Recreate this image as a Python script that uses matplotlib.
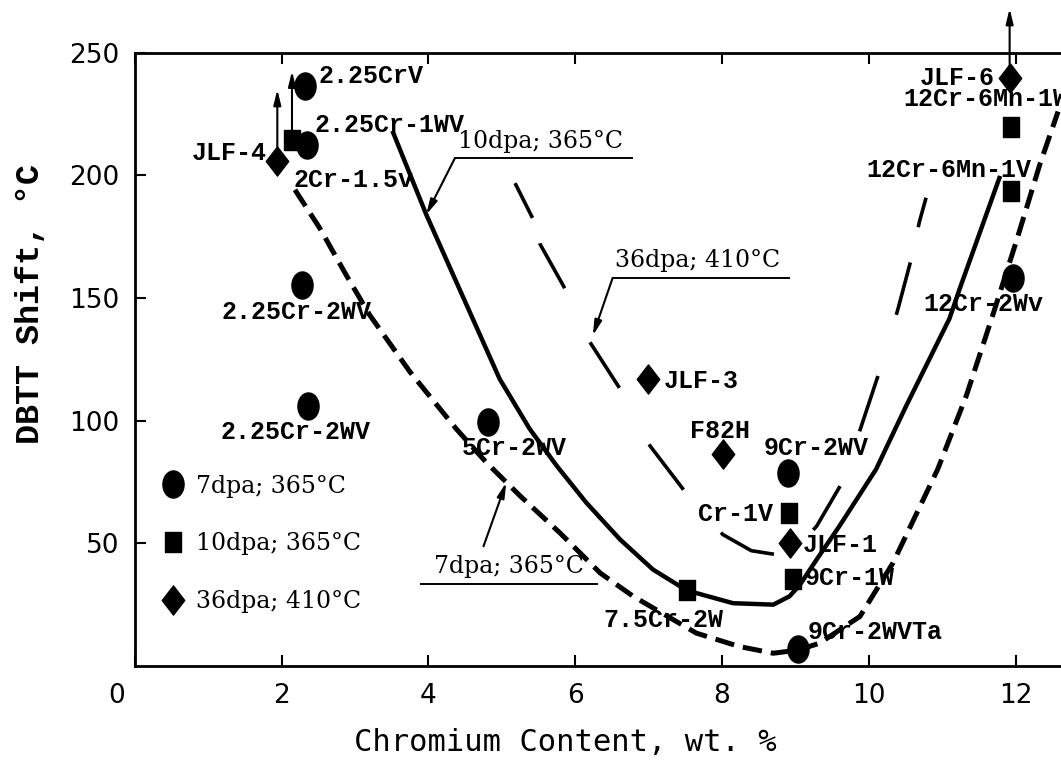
import matplotlib.pyplot as plt
from matplotlib.path import Path
import matplotlib.transforms as mtransforms

plt.rcParams['lines.scale_dashes'] = False

# --- measured points ---
# 7dpa; 365C (circles)
circle_cr = [2.32, 2.34, 2.27, 2.36, 4.81, 8.90, 9.04, 11.97]
circle_shift = [236.4, 212.5, 155.2, 106.1, 99.4, 78.8, 6.8, 158.0]

# 10dpa; 365C (squares)
square_cr = [2.14, 7.52, 8.92, 8.97, 11.94, 11.94]
square_shift = [214.5, 30.8, 62.5, 35.5, 193.8, 219.6]

# 36dpa; 410C (diamonds)
diamond_cr = [1.94, 6.99, 8.02, 8.93, 11.92]
diamond_shift = [205.7, 117.0, 86.3, 50.2, 239.8]

# lower-bound values (arrow pointing up)
bound_cr = [1.94, 2.14, 11.92]
bound_from = [208.0, 218.0, 243.0]
bound_to = [235.0, 242.5, 268.0]

# --- trend curves ---
curve7_cr = [2.18, 2.52, 2.88, 3.2, 3.75, 4.38, 4.79, 5.25, 5.79, 6.34, 6.79, 7.65,
             8.24, 8.7, 9.04, 9.33, 9.88, 10.33, 10.94, 11.33, 11.69, 12.01, 12.33, 12.58]
curve7_shift = [194.1, 178.4, 159.3, 143.0, 119.8, 96.6, 82.9, 69.3, 54.3, 37.9, 28.4, 13.4,
                7.9, 5.2, 6.5, 9.3, 20.2, 42.0, 80.2, 110.2, 143.0, 173.0, 204.3, 226.0]

curve10_cr = [3.52, 3.97, 4.38, 4.97, 5.38, 5.75, 6.15, 6.61, 7.06, 7.52, 8.15, 8.7,
              8.92, 9.06, 9.29, 9.6, 10.1, 10.51, 11.1, 11.24, 11.78]
curve10_shift = [217.3, 184.0, 156.5, 117.0, 96.6, 81.5, 66.6, 51.6, 39.3, 30.8, 25.6, 25.0,
                 28.4, 33.0, 43.4, 57.0, 80.2, 106.0, 141.6, 153.8, 198.9]

curve36_cr = [5.18, 5.42, 5.52, 5.86, 6.2, 6.61, 7.02, 7.49, 8.01, 8.4, 8.74, 9.0,
              9.29, 9.65, 9.9, 10.15, 10.4, 10.58, 10.69, 10.81]
curve36_shift = [196.8, 182.5, 172.0, 153.8, 132.0, 113.0, 89.7, 71.3, 53.6, 47.0, 45.4, 47.5,
                 57.0, 75.4, 97.9, 120.4, 145.7, 166.0, 181.0, 194.0]

alloy_names = ['2.25CrV', '2.25Cr-1WV', 'JLF-4', '2Cr-1.5v', '2.25Cr-2WV', '2.25Cr-2WV',
               '5Cr-2WV', 'JLF-3', 'F82H', '9Cr-2WV', 'Cr-1V', 'JLF-1', '9Cr-1W',
               '7.5Cr-2W', '9Cr-2WVTa', 'JLF-6', '12Cr-6Mn-1W', '12Cr-6Mn-1V', '12Cr-2Wv']
name_pos = [(2.50, 240.5, 'left'), (2.45, 220.7, 'left'), (1.79, 209.0, 'right'),
            (2.16, 198.2, 'left'), (1.18, 144.3, 'left'), (1.17, 95.2, 'left'),
            (4.45, 89.0, 'left'), (7.20, 116.3, 'left'), (7.97, 95.9, 'center'),
            (8.57, 89.0, 'left'), (8.70, 61.8, 'right'), (9.10, 49.5, 'left'),
            (9.13, 35.9, 'left'), (6.38, 18.8, 'left'), (9.17, 14.0, 'left'),
            (11.72, 239.8, 'right'), (10.47, 231.0, 'left'), (9.97, 202.3, 'left'),
            (10.74, 147.7, 'left')]

series_labels = ['7dpa; 365°C', '10dpa; 365°C', '36dpa; 410°C']
x_ticks = [0, 2, 4, 6, 8, 10, 12]
y_ticks = [50, 100, 150, 200, 250]

# marker shapes (slightly taller than wide, like the original)
circ = Path.unit_circle()
m_circle = Path(circ.vertices * [0.78, 1.0], circ.codes)
m_square = Path([(-0.39, -0.5), (0.39, -0.5), (0.39, 0.5), (-0.39, 0.5), (-0.39, -0.5)], closed=True)
m_diamond = Path([(0, -0.5), (0.385, 0), (0, 0.5), (-0.385, 0), (0, -0.5)], closed=True)

fig = plt.figure(figsize=(10.61, 7.6), dpi=100)
ax = fig.add_axes([0.1272, 0.1237, 0.8728, 0.807])

# curves
ax.plot(curve7_cr, curve7_shift, color='black', lw=3.6, dashes=(14, 6.5), solid_joinstyle='round')
ax.plot(curve10_cr, curve10_shift, color='black', lw=3.2, solid_joinstyle='round')
# hand-drawn long dashes of the original (on/off lengths in points)
long_dash = (28, 19, 37, 43, 39, 46, 41, 41, 42, 35, 37, 42, 42, 46, 39, 26, 22, 100)
ax.plot(curve36_cr, curve36_shift, color='black', lw=2.6, linestyle=(0, long_dash))

# points
h1, = ax.plot(circle_cr, circle_shift, ls='none', marker=m_circle, ms=19.5, color='black')
h2, = ax.plot(square_cr, square_shift, ls='none', marker=m_square, ms=15, color='black')
h3, = ax.plot(diamond_cr, diamond_shift, ls='none', marker=m_diamond, ms=21, color='black')

arrow_style = dict(arrowstyle='-|>,head_length=0.9,head_width=0.22',
                   color='black', lw=1.5, shrinkA=0, shrinkB=0)
for x, y0, y1 in zip(bound_cr, bound_from, bound_to):
    ax.annotate('', xy=(x, y1), xytext=(x, y0), annotation_clip=False, arrowprops=arrow_style)

name_font = dict(family='Liberation Mono', weight='bold', size=18)
for name, (x, y, ha) in zip(alloy_names, name_pos):
    ax.text(x, y, name, ha=ha, va='center', **name_font)

# curve call-outs: text, underline, leader arrow
serif = dict(family='DejaVu Serif', size=17)
callout_text = [series_labels[1], series_labels[2], series_labels[0]]
callouts = [
    # text x, baseline y, underline x0, x1, y, arrow tail, arrow tip
    (4.40, 211.1, 4.36, 6.77, 207.0, (4.36, 207.0), (3.97, 184.0)),
    (6.54, 162.7, 6.51, 8.91, 158.2, (6.51, 158.2), (6.24, 134.7)),
    (4.07, 37.9, 3.90, 6.29, 33.5, (4.75, 48.8), (5.06, 74.8)),
]
for (tx, ty, u0, u1, uy, tail, tip), lab in zip(callouts, callout_text):
    ax.text(tx, ty, lab, ha='left', va='baseline', **serif)
    ax.plot([u0, u1], [uy, uy], color='black', lw=1.4)
    ax.annotate('', xy=tip, xytext=tail, arrowprops=arrow_style)

# legend
leg = ax.legend([h1, h2, h3], series_labels, loc='upper left', bbox_to_anchor=(0.026, 0.312),
                frameon=False, prop=dict(family='DejaVu Serif', size=17),
                handlelength=1.2, handletextpad=0.35, labelspacing=1.47, borderpad=0,
                borderaxespad=0)

ax.set_xlim(0, 12.62)
ax.set_ylim(0, 250)
ax.set_xticks(x_ticks)
ax.set_yticks(y_ticks)
ax.tick_params(direction='in', length=8, width=1.5, labelsize=19, top=True)
ax.tick_params(axis='x', pad=12)
ax.tick_params(axis='y', pad=11)
ax.tick_params(axis='x', which='major', top=True, labeltop=False)
for lbl in ax.get_xticklabels() + ax.get_yticklabels():
    lbl.set_family('DejaVu Sans')
# the "0" sits left of the corner in the original
ax.get_xticklabels()[0].set_transform(
    ax.get_xticklabels()[0].get_transform()
    + mtransforms.ScaledTranslation(-18 / 100, 0, fig.dpi_scale_trans))

for side in ['left', 'bottom', 'top']:
    ax.spines[side].set_linewidth(2)
ax.spines['right'].set_visible(False)

ax.set_xlabel('Chromium Content, wt. %', family='DejaVu Sans Mono', size=22, va='center')
ax.xaxis.set_label_coords(0.465, -0.124)
ax.set_ylabel('DBTT Shift, °C', family='Liberation Mono', weight='bold', size=24,
              ha='center', va='center')
ax.yaxis.set_label_coords(-0.113, 0.59)

fig.savefig('out.png', dpi=100)
